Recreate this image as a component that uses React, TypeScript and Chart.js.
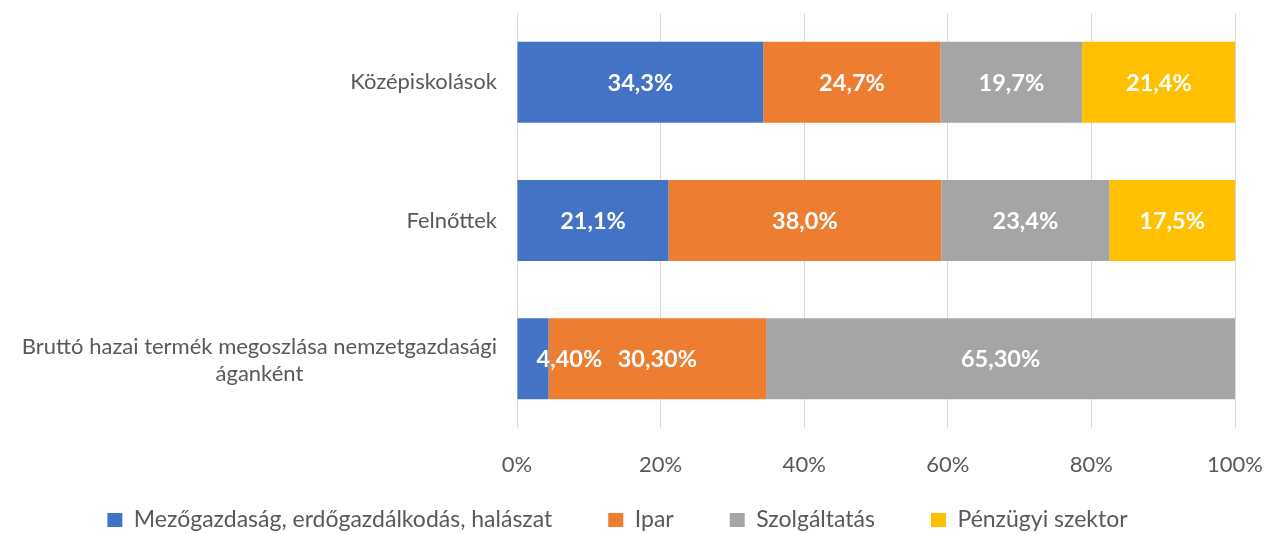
import React, { useEffect, useRef } from "react";
import { Chart, registerables } from "chart.js";

Chart.register(...registerables);

const categories: string[][] = [
  ["Középiskolások"],
  ["Felnőttek"],
  ["Bruttó hazai termék megoszlása nemzetgazdasági", "áganként"],
];
const labelDecimals = [1, 1, 2];

const seriesNames = [
  "Mezőgazdaság, erdőgazdálkodás, halászat",
  "Ipar",
  "Szolgáltatás",
  "Pénzügyi szektor",
];
const agriculture = [34.3, 21.1, 4.4];
const industry = [24.7, 38.0, 30.3];
const services = [19.7, 23.4, 65.3];
const finance = [21.4, 17.5, 0];
const seriesColors = ["#4472C4", "#ED7D31", "#A5A5A5", "#FFC000"];
const xTicks = [0, 20, 40, 60, 80, 100];

const FONT = "Lato, 'Open Sans', sans-serif";
const TEXT = "#595959";
const LEGEND_FS = 23;

const dataLabelPlugin = {
  id: "dataLabels",
  afterDatasetsDraw(chart: any) {
    const ctx = chart.ctx;
    ctx.save();
    ctx.font = `bold 23.5px ${FONT}`;
    ctx.fillStyle = "#ffffff";
    ctx.textAlign = "center";
    ctx.textBaseline = "middle";
    chart.data.datasets.forEach((ds: any, i: number) => {
      const meta = chart.getDatasetMeta(i);
      meta.data.forEach((el: any, j: number) => {
        const v = ds.data[j];
        if (!v) return;
        const txt = v.toFixed(labelDecimals[j]).replace(".", ",") + "%";
        const w = ctx.measureText(txt).width;
        const start = Math.min(el.x, el.base);
        let x = (el.x + el.base) / 2;
        // keep a label that is wider than its bar from spilling past the bar's start
        x = Math.max(x, start + w / 2 + 19);
        ctx.fillText(txt, x, el.y + 1);
      });
    });
    ctx.restore();
  },
};

const categoryLabelPlugin = {
  id: "categoryLabels",
  afterDraw(chart: any) {
    const ctx = chart.ctx;
    const yScale = chart.scales.y;
    const right = chart.chartArea.left - 20;
    const lineH = 27;
    ctx.save();
    ctx.font = `22px ${FONT}`;
    ctx.fillStyle = TEXT;
    ctx.textBaseline = "middle";
    categories.forEach((lines, i) => {
      const cy = yScale.getPixelForValue(i);
      const maxW = Math.max(...lines.map((l) => ctx.measureText(l).width));
      const startY = cy - ((lines.length - 1) * lineH) / 2 + (lines.length > 1 ? 2 : 0);
      lines.forEach((l, k) => {
        const y = startY + k * lineH;
        if (lines.length === 1) {
          ctx.textAlign = "right";
          ctx.fillText(l, right, y);
        } else {
          ctx.textAlign = "center";
          ctx.fillText(l, right - maxW / 2, y);
        }
      });
    });
    ctx.restore();
  },
};

const legendShiftPlugin = {
  id: "legendShift",
  afterLayout(chart: any) {
    const lg = chart.legend;
    if (!lg) return;
    const p = lg.options.labels.padding;
    const target = 520;
    const newTop = target - p - LEGEND_FS / 2;
    lg.top = newTop;
    lg.bottom = chart.height;
    lg.height = chart.height - newTop;
  },
};

export default function App() {
  const ref = useRef<HTMLCanvasElement>(null);
  useEffect(() => {
    if (!ref.current) return;
    const datasetsValues = [agriculture, industry, services, finance];
    const chart = new Chart(ref.current, {
      type: "bar",
      data: {
        labels: categories.map((c) => c.join(" ")),
        datasets: datasetsValues.map((d, i) => ({
          label: seriesNames[i],
          data: d,
          backgroundColor: seriesColors[i],
          borderWidth: 0,
          categoryPercentage: 1,
          barPercentage: 0.586,
        })),
      },
      options: {
        indexAxis: "y",
        responsive: false,
        animation: false,
        layout: { padding: { top: 13, right: 44, left: 0, bottom: 0 } },
        scales: {
          x: {
            stacked: true,
            min: 0,
            max: 100,
            afterBuildTicks: (scale: any) => {
              scale.ticks = xTicks.map((v) => ({ value: v }));
            },
            afterFit: (scale: any) => {
              scale.height = 49;
              scale.paddingRight = 0;
              scale.paddingLeft = 0;
            },
            ticks: {
              callback: (v: any) => v + "%",
              color: TEXT,
              font: { family: FONT, size: 22 },
              padding: 24,
              maxRotation: 0,
            },
            grid: { color: "#D9D9D9", lineWidth: 1, drawTicks: false },
            border: { display: false },
          },
          y: {
            stacked: true,
            ticks: { display: false },
            grid: { display: false },
            border: { display: false },
            afterFit: (scale: any) => {
              scale.width = 517;
            },
          },
        },
        plugins: {
          legend: {
            position: "bottom",
            maxHeight: 57,
            labels: {
              color: TEXT,
              font: { family: FONT, size: LEGEND_FS },
              boxWidth: 15,
              boxHeight: 14,
              padding: 56,
            },
          },
          tooltip: { enabled: false },
        },
      },
      plugins: [dataLabelPlugin, categoryLabelPlugin, legendShiftPlugin],
    });
    return () => chart.destroy();
  }, []);
  return (
    <div style={{ position: "absolute", left: 0, top: 0, width: 1279, height: 534 }}>
      <canvas ref={ref} width={1279} height={534} />
    </div>
  );
}
